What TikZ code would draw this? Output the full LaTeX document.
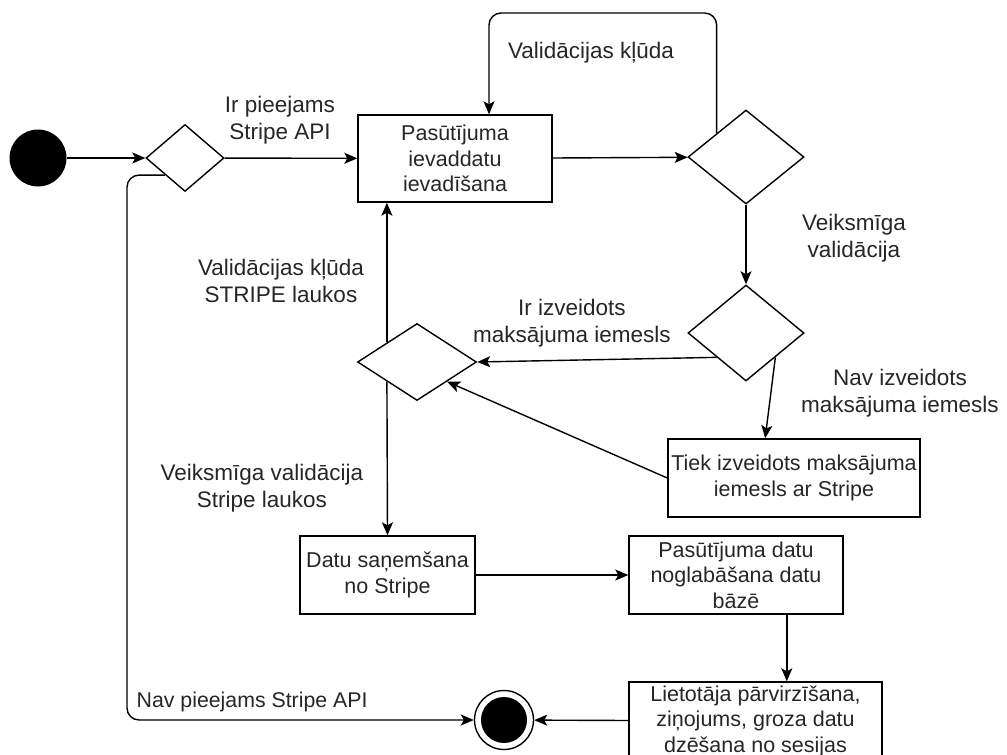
\documentclass[tikz,border=0pt]{standalone}
\usepackage{fontspec}
\setmainfont{Liberation Sans}
\usetikzlibrary{shapes.geometric,arrows.meta}
\begin{document}
\begin{tikzpicture}[x=1pt,y=-1pt,line width=1.4pt,>={Stealth[length=13pt,width=11pt,inset=3pt]}]
\tikzstyle{box} = [draw, rectangle, align=center, inner sep=1pt, minimum height=78pt, text=black!85, font=\fontsize{21.5}{25.5}\selectfont]
\tikzstyle{choice} = [draw, diamond, inner sep=0pt]
\tikzstyle{lbl} = [align=center, inner sep=0pt, text=black!85, font=\fontsize{22.5}{27.5}\selectfont]
%
\useasboundingbox (0,0) rectangle (1007,755);
\node[circle, fill=black, minimum size=57pt, inner sep=0pt] (st) at (38,158) {};
\node[choice, minimum width=78pt, minimum height=67pt] (d1) at (185,158) {};
\node[box, minimum width=194pt, minimum height=87pt] (b1) at (455,158.5) {Pasūtījuma\\ievaddatu\\ievadīšana};
\node[choice, minimum width=116pt, minimum height=94pt] (d2) at (746,157) {};
\node[choice, minimum width=116pt, minimum height=96pt] (d3) at (746,333) {};
\node[choice, minimum width=119pt, minimum height=77pt] (d4) at (417,362) {};
\node[box, minimum width=252pt] (b2) at (794,478) {Tiek izveidots maksājuma\\iemesls ar Stripe};
\node[box, minimum width=175pt] (b3) at (387.5,575) {Datu saņemšana\\no Stripe};
\node[box, minimum width=214pt] (b4) at (736,575) {Pasūtījuma datu\\noglabāšana datu\\bāzē};
\node[box, minimum width=253pt] (b5) at (755.5,721) {Lietotāja pārvirzīšana,\\ziņojums, groza datu\\dzēšana no sesijas};
\node[circle, draw, minimum size=59pt, inner sep=0pt] (fin) at (504,720) {};
\fill (fin.center) circle (23);
%
\coordinate (c1) at (489,13);
\coordinate (c2) at (127,720);
\draw[->] (st) -- (d1);
\draw[->] (d1) -- (b1);
\draw[->] (b1) -- (d2);
\draw[->, rounded corners=12pt] (d2.north west) |- (c1) -- (c1 |- b1.north);
\draw[->] (d2) -- (d3);
\draw[->] (d3.south west) -- (d4.east);
\draw[->] (d3.south east) -- (b2.126);
\draw[->] (b2.west) -- (d4.south east);
\draw[->] (d4.north west) -- (d4.north west |- b1.south);
\draw[->] (d4.south west) -- (b3.north);
\draw[->] (b3) -- (b4);
\draw[->] (b4.-38.5) -- (b4.-38.5 |- b5.north);
\draw[->] (b5) -- (fin);
\draw[->, rounded corners=12pt] (d1.south west) -| (c2) -- (fin);
%
\node[lbl] (l1) at (280,120) {Ir pieejams\\Stripe API};
\node[lbl] (l2) at (591,53) {Validācijas kļūda};
\node[lbl] (l3) at (854,238) {Veiksmīga\\validācija};
\node[lbl] (l4) at (572,323) {Ir izveidots\\maksājuma iemesls};
\node[lbl] (l5) at (900,393) {Nav izveidots\\maksājuma iemesls};
\node[lbl] (l6) at (281,281) {Validācijas kļūda\\STRIPE laukos};
\node[lbl] (l7) at (262,488) {Veiksmīga validācija\\Stripe laukos};
\node[lbl, anchor=west, font=\fontsize{21.3}{26}\selectfont] (l8) at (136,702) {Nav pieejams Stripe API};
\end{tikzpicture}
\end{document}
